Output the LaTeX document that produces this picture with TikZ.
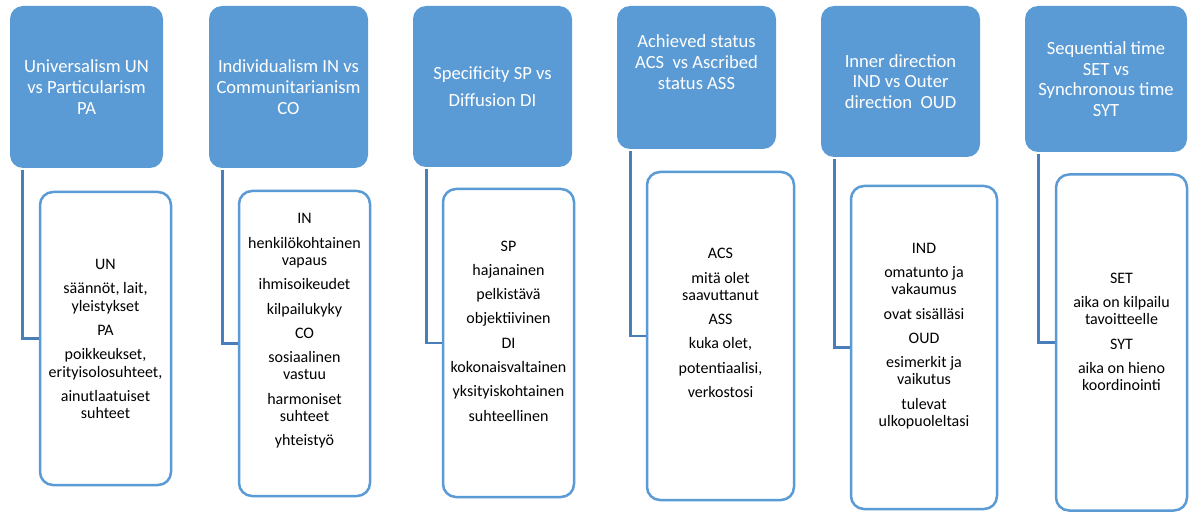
\documentclass[tikz,border=0pt]{standalone}
\usepackage{fontspec}
\setmainfont{Carlito}
\usetikzlibrary{positioning}
\definecolor{boxblue}{HTML}{5B9BD5}
\definecolor{linkblue}{HTML}{4A7EBB}

\begin{document}
\begin{tikzpicture}[x = 1pt, y = -1pt]
    \tikzstyle{head} = [fill = boxblue, rounded corners = 13pt, text = white, align = center, inner sep = 0pt, font = \fontsize{18.6}{20.7}\selectfont];
    \tikzstyle{body} = [draw = boxblue, line width = 2.5pt, fill = white, rounded corners = 13pt, inner sep = 0pt];
    \tikzstyle{item} = [align = center, inner sep = 0pt, font = \fontsize{16}{17.3}\selectfont];
    \tikzstyle{link} = [draw = linkblue, line width = 2.7pt];
    \useasboundingbox (0,0) rectangle (1194,513);
    % headers
    \node[head, minimum width = 153pt, minimum height = 162pt] (h1) at (86.5,87) {Universalism UN\\vs Particularism\\PA};
    \node[head, minimum width = 159pt, minimum height = 162pt] (h2) at (288.5,87) {Individualism IN vs\\Communitarianism\\CO};
    \node[head, minimum width = 159pt, minimum height = 161pt] (h3) at (492.5,86.5) {Specificity SP vs\\[6pt]Diffusion DI};
    \node[head, minimum width = 159pt, minimum height = 143pt] (h4) at (696.5,77.5) {Achieved status\\ACS\ \ vs Ascribed\\status ASS\\[10pt]\mbox{}};
    \node[head, minimum width = 159pt, minimum height = 151pt] (h5) at (900.5,81.5) {Inner direction\\IND vs Outer\\direction\ \ OUD};
    \node[head, minimum width = 162pt, minimum height = 146pt] (h6) at (1106,79) {Sequential time\\SET vs\\Synchronous time\\SYT};
    % boxes below
    \node[body, minimum width = 131pt, minimum height = 293pt] (b1) at (105.5,338.5) {};
    \node[body, minimum width = 131pt, minimum height = 305pt] (b2) at (304.5,343.5) {};
    \node[body, minimum width = 131pt, minimum height = 308pt] (b3) at (508.5,343) {};
    \node[body, minimum width = 147pt, minimum height = 328pt] (b4) at (720.5,336) {};
    \node[body, minimum width = 146pt, minimum height = 323pt] (b5) at (924,347.5) {};
    \node[body, minimum width = 131pt, minimum height = 336pt] (b6) at (1121.5,342.5) {};
    % texts
    \node[item] (t1) at (105.5,339) {UN\\[7pt]säännöt, lait,\\yleistykset\\[7pt]PA\\[7pt]poikkeukset,\\erityisolosuhteet,\\[7pt]ainutlaatuiset\\suhteet};
    \node[item] (t2) at (304.5,331) {IN\\[7pt]henkilökohtainen\\vapaus\\[7pt]ihmisoikeudet\\[7pt]kilpailukyky\\[7pt]CO\\[7pt]sosiaalinen\\vastuu\\[7pt]harmoniset\\suhteet\\[7pt]yhteistyö};
    \node[item] (t3) at (508.5,331) {SP\\[7pt]hajanainen\\[7pt]pelkistävä\\[7pt]objektiivinen\\[7pt]DI\\[7pt]kokonaisvaltainen\\[7pt]yksityiskohtainen\\[7pt]suhteellinen};
    \node[item] (t4) at (720.5,323) {ACS\\[7pt]mitä olet\\saavuttanut\\[7pt]ASS\\[7pt]kuka olet,\\[7pt]potentiaalisi,\\[7pt]verkostosi};
    \node[item] (t5) at (924,336) {IND\\[7pt]omatunto ja\\vakaumus\\[7pt]ovat sisälläsi\\[7pt]OUD\\[7pt]esimerkit ja\\vaikutus\\[7pt]tulevat\\ulkopuoleltasi};
    \node[item] (t6) at (1121.5,332) {SET\\[7pt]aika on kilpailu\\tavoitteelle\\[7pt]SYT\\[7pt]aika on hieno\\koordinointi};
    % connectors
    \draw[link] ([xshift = 13pt, yshift = -2pt]h1.south west) |- (b1.west);
    \draw[link] ([xshift = 14pt, yshift = -2pt]h2.south west) |- (b2.west);
    \draw[link] ([xshift = 14pt, yshift = -2pt]h3.south west) |- (b3.west);
    \draw[link] ([xshift = 14pt, yshift = -2pt]h4.south west) |- (b4.west);
    \draw[link] ([xshift = 14pt, yshift = -2pt]h5.south west) |- (b5.west);
    \draw[link] ([xshift = 14pt, yshift = -2pt]h6.south west) |- (b6.west);
\end{tikzpicture}
\end{document}
